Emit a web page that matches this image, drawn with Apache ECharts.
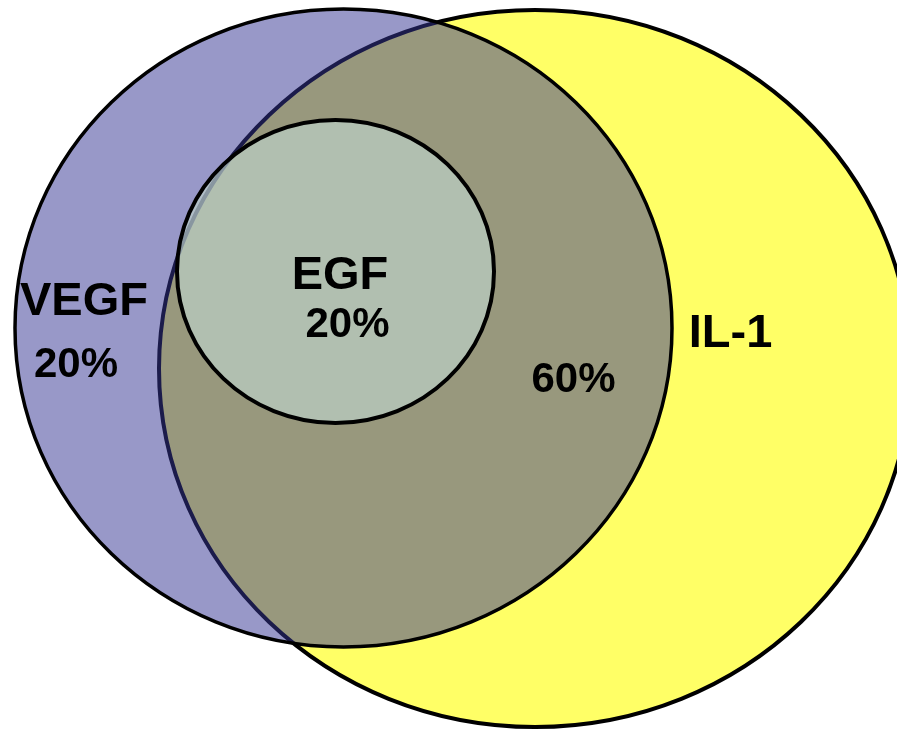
<!DOCTYPE html>
<html>
<head>
<meta charset="utf-8">
<title>VEGF / EGF / IL-1</title>
<script src="https://cdn.jsdelivr.net/npm/echarts@6/dist/echarts.min.js"></script>
<style>
  html, body { margin: 0; padding: 0; background: #ffffff; }
  #chart { width: 897px; height: 729px; }
</style>
</head>
<body>
<div id="chart"></div>
<script>
// Sets, drawn back to front: IL-1, then VEGF, then EGF (in chart units, y grows downward)
const setNames = ['IL-1', 'VEGF', 'EGF'];
const setCenterX = [535, 343.5, 335.5];
const setCenterY = [368.5, 328, 271.5];
const setRadiusX = [376, 328.5, 158.5];
const setRadiusY = [358.5, 319, 151.5];

// Region shares (%) and where each label sits
const regionNames = ['VEGF', 'EGF', ''];
const regionShares = [20, 20, 60];
const nameX = [84, 340, null];
const nameY = [302, 276, null];
const shareX = [76, 347.5, 573.5];
const shareY = [365, 325, 380];

// IL-1 caption outside the EGF/VEGF areas
const captionText = ['IL-1'];
const captionX = [730.5];
const captionY = [334.5];

const setStyles = {
  'IL-1': { fill: '#ffff66', stroke: '#000000', lineWidth: 4 },
  'VEGF': { fill: 'rgba(53,53,147,0.51)', stroke: '#000000', lineWidth: 3.5 },
  'EGF': { fill: 'rgba(188,209,200,0.68)', stroke: '#000000', lineWidth: 4 }
};

const setData = setNames.map((n, i) => [setCenterX[i], setCenterY[i], setRadiusX[i], setRadiusY[i], n]);

const labelData = [];
regionNames.forEach((n, i) => {
  if (n) labelData.push([nameX[i], nameY[i], n, 'name']);
  labelData.push([shareX[i], shareY[i], regionShares[i] + '%', 'share']);
});
captionText.forEach((t, i) => labelData.push([captionX[i], captionY[i], t, 'name']));

const chart = echarts.init(document.getElementById('chart'), null, { renderer: 'canvas' });

chart.setOption({
  backgroundColor: '#ffffff',
  animation: false,
  grid: { left: 0, right: 0, top: 0, bottom: 0 },
  xAxis: { type: 'value', min: 0, max: 897, show: false },
  yAxis: { type: 'value', min: 0, max: 729, inverse: true, show: false },
  series: [
    {
      type: 'custom',
      clip: false,
      data: setData,
      renderItem(params, api) {
        const c = api.coord([api.value(0), api.value(1)]);
        const s = api.size([api.value(2), api.value(3)]);
        const st = setStyles[setData[params.dataIndex][4]];
        return {
          type: 'ellipse',
          shape: { cx: c[0], cy: c[1], rx: s[0], ry: s[1] },
          style: { fill: st.fill, stroke: st.stroke, lineWidth: st.lineWidth }
        };
      }
    },
    {
      type: 'custom',
      clip: false,
      data: labelData,
      renderItem(params, api) {
        const d = labelData[params.dataIndex];
        const c = api.coord([d[0], d[1]]);
        const size = d[3] === 'name' ? 47 : 42;
        return {
          type: 'text',
          x: c[0],
          y: c[1],
          style: {
            text: d[2],
            fill: '#000000',
            font: 'bold ' + size + 'px "Liberation Sans", Arial, sans-serif',
            align: 'center',
            verticalAlign: 'middle'
          }
        };
      }
    }
  ]
});
</script>
</body>
</html>
